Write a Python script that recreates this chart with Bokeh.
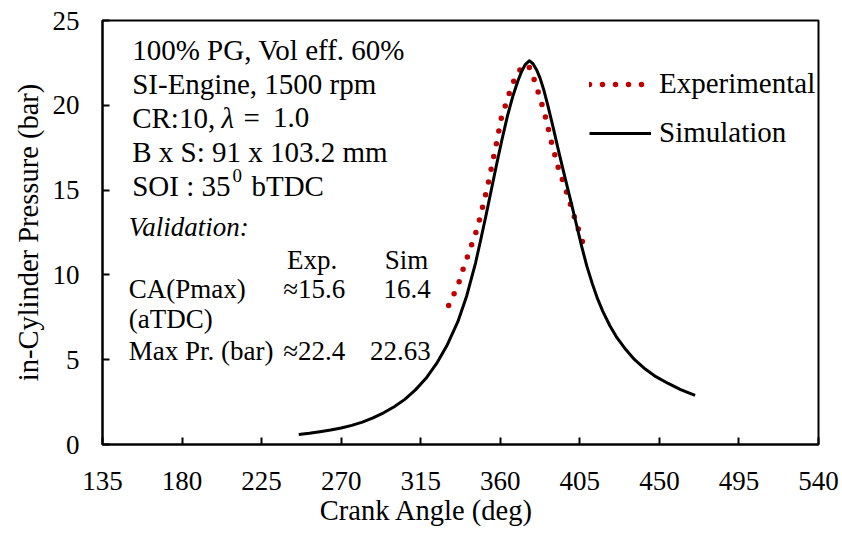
from bokeh.plotting import figure
from bokeh.models import Range1d, FixedTicker, Label, Legend, LegendItem, Title
from bokeh.embed import file_html
from bokeh.resources import INLINE

# ---------------- data ----------------
sim_ca = [246, 252, 258, 264, 270, 276, 282, 288, 294, 300, 306, 312, 318, 324, 330,
          336, 341, 346, 349, 352, 355, 358, 361, 364, 367, 370, 372, 374, 376.4,
          378.5, 380.5, 382.5, 384.5, 387, 390, 393, 396, 398, 400, 403, 406, 409,
          412, 415, 418, 422, 426, 431, 436, 442, 448, 455, 462, 470.2]
sim_p = [0.59, 0.66, 0.75, 0.85, 0.97, 1.13, 1.32, 1.57, 1.87, 2.23, 2.66, 3.22, 3.9,
         4.78, 5.87, 7.24, 8.76, 10.7, 12.1, 13.55, 15.05, 16.55, 18.0, 19.35, 20.5,
         21.45, 21.98, 22.38, 22.63, 22.45, 22.1, 21.6, 20.95, 19.95, 18.65, 17.3,
         16.0, 15.15, 14.3, 13.0, 11.7, 10.5, 9.5, 8.6, 7.85, 7.0, 6.3, 5.6, 5.0,
         4.45, 4.0, 3.6, 3.24, 2.89]

exp_ca = [330.8, 334, 337, 339.3, 342, 347.2, 352.8, 357.6, 360.6, 365.6, 368.5,
          371.5, 375.6, 377.5, 380.3, 384.9, 388.6, 392.6, 397.7, 402.4, 407.3]
exp_p = [8.2, 8.92, 9.67, 10.45, 11.24, 12.81, 15.21, 17.63, 19.26, 20.87, 21.66,
         22.15, 22.4, 22.0, 21.17, 19.6, 17.97, 16.39, 14.82, 13.25, 11.7]

x_ticks = [135, 180, 225, 270, 315, 360, 405, 450, 495, 540]
y_ticks = [0, 5, 10, 15, 20, 25]

FONT = "Liberation Serif"

p = figure(width=842, height=537, output_backend="svg", toolbar_location=None,
           x_range=Range1d(135, 540), y_range=Range1d(0, 25),
           min_border_left=102, min_border_right=24, min_border_top=20,
           min_border_bottom=93)
p.background_fill_color = "white"
p.border_fill_color = "white"
p.outline_line_color = "black"
p.outline_line_width = 2
p.grid.visible = False

for ax in (p.xaxis[0], p.yaxis[0]):
    ax.axis_line_color = "black"
    ax.axis_line_width = 2
    ax.major_tick_line_color = "black"
    ax.major_tick_line_width = 2
    ax.major_tick_in = 7
    ax.major_tick_out = 0
    ax.minor_tick_line_color = None
    ax.major_label_text_font = FONT
    ax.major_label_text_font_size = "27px"
    ax.major_label_text_color = "black"
    ax.axis_label_text_font = FONT
    ax.axis_label_text_font_size = "28.5px"
    ax.axis_label_text_font_style = "normal"
    ax.axis_label_text_color = "black"

p.xaxis.ticker = FixedTicker(ticks=x_ticks)
p.yaxis.ticker = FixedTicker(ticks=y_ticks)
p.yaxis.axis_label = "in-Cylinder Pressure (bar)"
p.xaxis.major_label_standoff = 27
p.yaxis.major_label_standoff = 23
p.yaxis.axis_label_standoff = 6

# x-axis title, centred on the whole chart area (left of the frame centre)
p.add_layout(Title(text="Crank Angle (deg)", align="right", offset=285, standoff=0,
                   text_font=FONT, text_font_size="28.5px", text_font_style="normal",
                   text_color="black", background_fill_color=None,
                   border_line_color=None), "below")

r_exp = p.line(exp_ca, exp_p, line_color="#C00000", line_width=5.5,
               line_dash="0 13", line_cap="round")
r_sim = p.line(sim_ca, sim_p, line_color="black", line_width=3, line_join="round")

legend = Legend(items=[LegendItem(label="Experimental", renderers=[r_exp]),
                       LegendItem(label="Simulation", renderers=[r_sim])],
                location=(487, 295), label_text_font=FONT, label_text_font_size="29px",
                label_text_color="black",
                glyph_width=62, glyph_height=32, label_height=32, label_standoff=8,
                spacing=16, padding=0, margin=0, border_line_color=None,
                background_fill_color=None)
p.add_layout(legend)

DY = -11  # baseline correction


def px2x(px):
    return 135 + (px - 102) * 45 / 79.6


def py2y(py):
    return (444 - (py + DY)) / 16.96


def lab(px, py, text, size="29px", style="normal", align="left"):
    p.add_layout(Label(x=px2x(px), y=py2y(py), text=text, text_font=FONT,
                       text_font_size=size, text_font_style=style,
                       text_color="black", text_align=align,
                       text_baseline="alphabetic",
                       background_fill_color=None, border_line_color=None))


lab(131.7, 60, "100% PG, Vol eff. 60%")
lab(131.7, 94, "SI-Engine, 1500 rpm")
lab(131.7, 128, "CR:10, ")
lab(221, 128, "λ", style="italic")
lab(243, 128, "=")
lab(272.5, 128, "1.0")
lab(131.7, 162, "B x S: 91 x 103.2 mm")
lab(131.7, 196.5, "SOI : 35")
lab(232, 186, "0", size="19px")
lab(251, 196.5, "bTDC")

lab(128.3, 237, "Validation:", size="27px", style="italic")
lab(286.7, 270, "Exp.", size="27px")
lab(428, 270, "Sim", size="27px", align="right")
lab(128.3, 299, "CA(Pmax)", size="27px")
lab(345, 299, "≈15.6", size="27px", align="right")
lab(430.5, 299, "16.4", size="27px", align="right")
lab(128.3, 329, "(aTDC)", size="27px")
lab(128.3, 361, "Max Pr. (bar)", size="27px")
lab(345, 361, "≈22.4", size="27px", align="right")
lab(430.5, 361, "22.63", size="27px", align="right")

open("out.html", "w").write(file_html(p, INLINE))
